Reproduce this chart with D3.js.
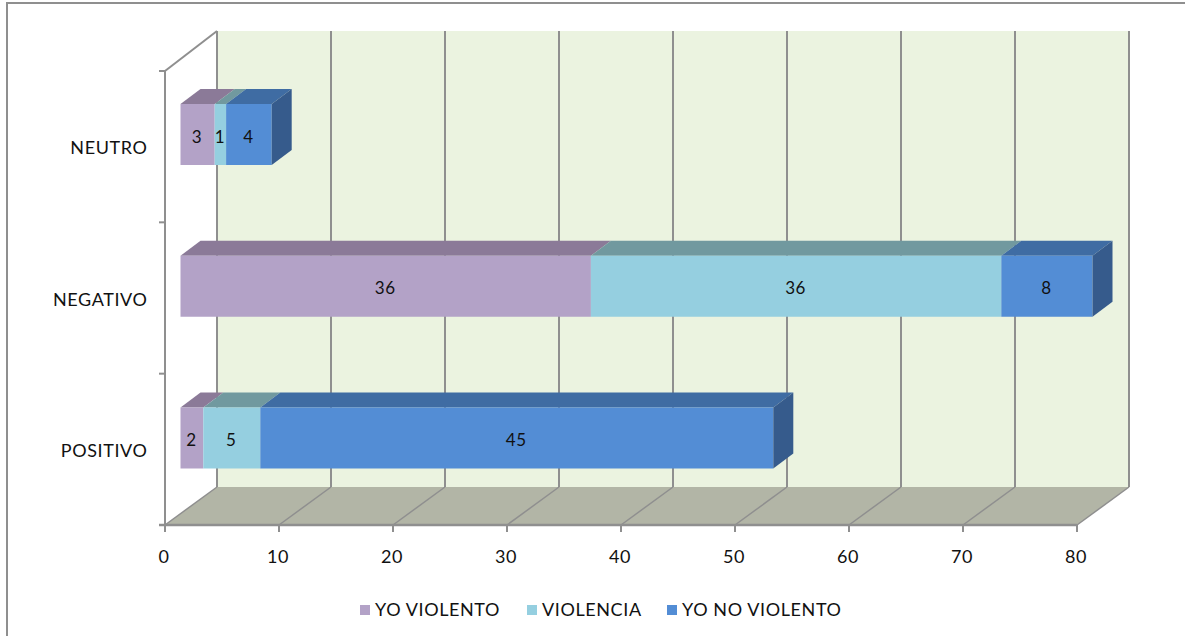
<!DOCTYPE html>
<html><head><meta charset="utf-8">
<script src="https://cdnjs.cloudflare.com/ajax/libs/d3/7.8.5/d3.min.js"></script>
<style>html,body{margin:0;background:#fff}svg{display:block}text{font-family:Lato,sans-serif;fill:#111;letter-spacing:.6px}</style>
</head><body><div id="c"></div>
<script>
const categories=["NEUTRO","NEGATIVO","POSITIVO"];
const seriesNames=["YO VIOLENTO","VIOLENCIA","YO NO VIOLENTO"];
const yoViolento=[3,36,2];
const violencia=[1,36,5];
const yoNoViolento=[4,8,45];
const xTicks=[0,10,20,30,40,50,60,70,80];
const front=["#b3a2c7","#95cfe0","#538dd5"];
const topc=["#8b7a98","#71999f","#3f6ca3"];
const side=["#6f6080","#5b8a96","#365b8c"];

const W=1185,H=636,dx=52,dy=38,bdx=20,bdy=15,gap=15.5;
const svg=d3.select("#c").append("svg").attr("width",W).attr("height",H);
const x=d3.scaleLinear().domain([0,80]).range([165,1077]);
const y=d3.scaleBand().domain(categories).range([71,525]);
const barY=d3.scalePoint().domain(categories).range([134.5,438]);
const grey="#8f8f8f";
const poly=(pts,fill)=>svg.append("polygon").attr("points",pts.map(p=>p.join(",")).join(" ")).attr("fill",fill);
const line=(a,b,w=2)=>svg.append("line").attr("x1",a[0]).attr("y1",a[1]).attr("x2",b[0]).attr("y2",b[1]).attr("stroke",grey).attr("stroke-width",w);

// outer frame (top and left only are visible)
svg.append("path").attr("d","M7,636V3H1185").attr("fill","none").attr("stroke",grey).attr("stroke-width",2);

const [y0,y1]=y.range(),[x0,x1]=x.range();
// back wall and floor
poly([[x0+dx,y0-dy-2],[x1+dx,y0-dy-2],[x1+dx,y1-dy],[x0+dx,y1-dy]],"#ebf3e0");
poly([[x0,y1],[x1,y1],[x1+dx,y1-dy],[x0+dx,y1-dy]],"#b2b5a6");
// gridlines
xTicks.forEach(t=>{
  line([x(t)+dx,y0-dy-2],[x(t)+dx,y1-dy]);
  line([x(t),y1],[x(t)+dx,y1-dy],1.5);
});
// left side wall edges and axis
line([x0,y0],[x0+dx,y0-dy-2]);
line([x0,y0],[x0,y1]);
line([x0-6,y1],[x1,y1],2.5);
xTicks.forEach(t=>line([x(t),y1],[x(t),y1+7]));
[0,1,2,3].forEach(i=>{const yy=y0+i*y.step();line([x0-6,yy],[x0,yy]);});

// axis labels
xTicks.forEach(t=>svg.append("text").attr("x",x(t)-1).attr("y",563).attr("text-anchor","middle").attr("font-size",18).text(t));
categories.forEach(c=>svg.append("text").attr("x",147.5).attr("y",y(c)+y.bandwidth()/2+7.5).attr("text-anchor","end").attr("font-size",18).text(c));

// bars
const barH=61;
categories.forEach((c,i)=>{
  const top=barY(c)-barH/2;
  let cum=0;
  [yoViolento,violencia,yoNoViolento].forEach((s,k)=>{
    const v=s[i];
    const a=x(cum)+gap, b=x(cum+v)+gap;
    poly([[a,top],[a+bdx,top-bdy],[b+bdx,top-bdy],[b,top]],topc[k]);
    poly([[a,top],[b,top],[b,top+barH],[a,top+barH]],front[k]);
    cum+=v;
    if(k===2) poly([[b,top],[b+bdx,top-bdy],[b+bdx,top+barH-bdy],[b,top+barH]],side[k]);
    svg.append("text").attr("x",(a+b)/2-0.5).attr("y",top+barH/2+8).attr("text-anchor","middle").attr("font-size",17).text(v);
  });
});

// legend
const legX=[360,527,667];
seriesNames.forEach((n,k)=>{
  svg.append("rect").attr("x",legX[k]).attr("y",605).attr("width",10).attr("height",10).attr("fill",front[k]);
  svg.append("text").attr("x",legX[k]+15).attr("y",616).attr("font-size",18).text(n);
});
</script></body></html>
